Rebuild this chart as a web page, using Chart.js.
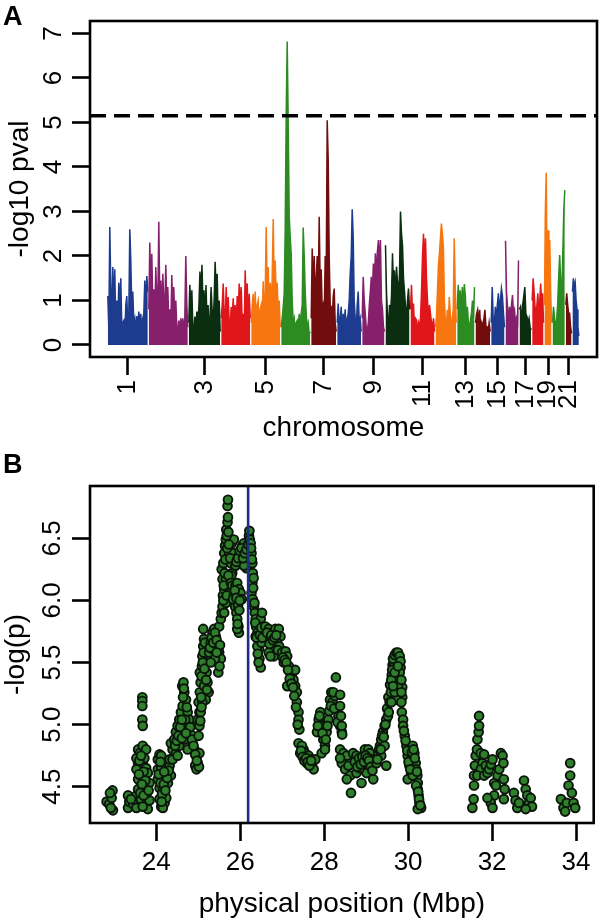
<!DOCTYPE html>
<html>
<head>
<meta charset="utf-8">
<script src="https://cdn.jsdelivr.net/npm/chart.js@4.4.1/dist/chart.umd.min.js"></script>
<style>
html,body{margin:0;padding:0;background:#fff;}
#wrap{position:relative;width:600px;height:920px;overflow:hidden;}
.panel{position:absolute;left:0;width:600px;height:460px;}
.plab{position:absolute;font-family:"Liberation Sans",Arial,Helvetica,sans-serif;font-weight:bold;font-size:27px;line-height:27px;color:#000;}
</style>
</head>
<body>
<div id="wrap">
  <div class="panel" style="top:0"><canvas id="cA" width="600" height="460"></canvas></div>
  <div class="panel" style="top:460px"><canvas id="cB" width="600" height="460"></canvas></div>
  <div class="plab" style="left:3px;top:3px">A</div>
  <div class="plab" style="left:3px;top:451px">B</div>
</div>
<script>
// ---------------- Panel A data: genome-wide scan ----------------
const chrNames = ['1','2','3','4','5','6','7','8','9','10','11','12','13','14','15','16','17','18','19','20','21','22'];
// relative chromosome widths on the genome axis
const chrSize = [41,40,32.4,30,30,30,26,25,23.3,25,25,21.7,18.3,15.7,14.3,14,12.7,12.3,8,13.3,6.7,7.3];
const chr1 = [1.1,0.4,2.65,1.3,0.6,1.75,0.9,1.7,0.3,1.0,0.5,1.4,0.8,1.5,0.4,0.5,0.55,0.2,0.9,1.1,0.4,0.7,2.6,1.9,0.8,1.2,0.5,0.6,0.3,0.65,0.4,0.75,0.5,0.7,0.3,0.6,0.7,1.45,0.9,1.55,1.2];
const chr2 = [0.8,2.3,1.2,2.05,0.9,1.25,0.7,1.75,1.1,0.9,2.77,1.0,1.45,0.7,1.6,1.0,0.8,1.8,0.9,1.3,0.5,0.8,0.4,1.57,0.8,1.3,0.5,1.0,0.4,0.3,0.55,0.3,0.6,0.4,0.6,0.3,0.6,2.0,0.9,0.4];
const chr3 = [0.5,1.35,0.8,1.23,0.4,0.3,0.64,0.4,0.75,0.5,0.9,1.65,1.1,1.8,0.9,1.23,0.6,1.35,0.5,0.9,0.4,0.6,1.3,0.8,0.5,1.0,1.87,1.2,1.6,0.6,1.0,0.3];
const chr4 = [0.6,0.9,1.38,0.7,0.5,1.3,0.6,1.08,0.5,0.4,0.85,0.6,1.05,0.5,0.9,0.4,1.1,0.7,1.38,0.8,1.3,0.5,0.7,0.3,1.68,0.9,1.38,0.5,1.15,0.6];
const chr5 = [0.5,0.9,1.15,0.6,1.2,0.5,0.9,1.0,0.4,0.8,0.9,0.6,1.43,0.8,1.1,2.65,1.2,1.75,0.9,1.4,0.8,1.5,2.83,1.3,1.9,1.1,1.4,0.7,1.0,0.4];
const chr6 = [0.4,0.6,0.86,1.16,2.6,5.2,6.82,5.0,2.9,2.43,2.05,1.0,0.5,0.6,0.3,0.5,0.55,0.4,0.7,0.5,0.7,0.9,2.64,2.0,1.2,0.7,0.4,0.5,0.25,0.3];
const chr7 = [0.6,2.17,1.2,2.0,1.0,1.5,2.0,1.2,2.88,1.3,1.7,0.8,0.9,0.6,2.0,1.5,5.05,4.15,2.0,0.9,0.86,0.5,1.08,1.27,0.5,0.3];
const chr8 = [0.5,0.93,0.4,0.6,0.86,0.3,0.7,0.5,0.8,0.3,0.6,0.7,1.0,1.6,2.0,3.05,2.43,1.0,0.6,0.3,0.9,1.2,0.5,0.6,0.3];
const chr9 = [0.6,1.53,1.0,0.71,0.4,0.3,0.5,0.9,1.2,1.53,1.1,1.83,1.4,2.06,1.6,2.1,2.36,1.8,2.36,1.0,0.8,0.4,0.3];
const chr10 = [2.24,1.2,0.64,0.4,0.9,0.7,1.1,2.06,1.3,1.68,1.0,1.76,1.4,1.16,1.6,3.0,2.5,2.24,1.5,1.2,0.86,0.6,1.0,1.27,0.8];
const chr11 = [0.8,1.35,0.7,0.93,0.4,0.6,0.56,0.3,0.5,0.41,0.6,1.2,2.0,2.5,1.8,2.4,1.5,1.0,0.6,0.9,0.7,0.5,0.41,0.6,0.3];
const chr12 = [0.4,0.64,1.2,1.8,2.06,2.4,2.73,2.5,2.2,1.0,0.56,0.4,0.79,0.5,1.08,0.7,0.4,0.56,0.8,2.4,1.3,0.5];
const chr13 = [0.8,1.35,0.9,1.23,0.7,1.3,0.9,1.37,1.1,0.6,0.86,0.5,0.4,0.56,0.7,1.0,0.6,1.3];
const chr14 = [0.5,0.7,0.79,0.5,0.79,0.3,0.5,0.4,0.6,0.79,0.4,0.41,0.3,0.5,0.3];
const chr15 = [0.5,1.3,0.56,0.4,0.86,0.6,0.9,1.16,0.8,1.0,1.27,1.1,0.71,0.4];
const chr16 = [2.34,1.2,0.86,0.5,0.86,0.6,0.9,1.12,0.7,0.79,0.5,0.6,0.4,1.9];
const chr17 = [0.8,0.86,0.5,0.9,1.1,1.3,0.7,0.64,0.5,0.6,0.4,0.34];
const chr18 = [1.0,1.5,1.2,0.86,0.5,0.9,1.16,0.7,1.0,1.38,0.9,1.16,0.5];
const chr19 = [0.9,3.0,3.87,1.5,2.58,2.0,2.36,1.2,0.5];
const chr20 = [0.5,0.86,0.6,0.4,0.56,0.9,1.5,2.02,1.46,1.0,2.0,3.0,3.48];
const chr21 = [0.9,1.16,0.9,0.7,0.71,0.4,0.26];
const chr22 = [1.2,1.5,1.3,1.4,1.0,0.8,0.4,0.2];
const chrValues = [chr1,chr2,chr3,chr4,chr5,chr6,chr7,chr8,chr9,chr10,chr11,chr12,chr13,chr14,chr15,chr16,chr17,chr18,chr19,chr20,chr21,chr22];
const labelledChroms = ['1','3','5','7','9','11','13','15','17','19','21'];
const yTicksA = [0,1,2,3,4,5,6,7];
const thresholdA = 5.15;

// ---------------- Panel B data: regional plot (position Mbp, -log p) ----------------
const regionSNPs = [
 [22.82,4.38],[22.88,4.36],[22.94,4.41],[22.96,4.47],[22.97,4.31],[22.92,4.33],[22.90,4.45],
 [23.33,4.43],[23.33,4.33],[23.36,4.38],[23.45,4.36],[23.53,4.43],[23.53,4.33],[23.40,4.40],
 [23.67,5.22],[23.67,5.19],[23.67,5.15],[23.67,5.04],[23.68,4.99],[23.57,4.80],[23.61,4.77],[23.68,4.83],[23.76,4.80],[23.57,4.69],[23.61,4.64],[23.68,4.69],[23.76,4.65],[23.57,4.56],[23.64,4.59],[23.72,4.59],[23.80,4.61],[23.57,4.48],[23.68,4.51],[23.76,4.49],[23.84,4.53],[23.64,4.40],[23.76,4.41],[23.84,4.39],[23.80,4.32],[23.68,4.34],[23.53,4.64],[23.53,4.73],[23.72,4.73],
 [23.60,4.71],[23.64,4.75],[23.70,4.62],[23.74,4.55],[23.78,4.45],[23.62,4.45],[23.70,4.43],[23.59,4.60],[23.82,4.47],[23.66,4.52],
 [24.04,4.72],[24.08,4.76],[24.12,4.75],[24.04,4.64],[24.12,4.65],[24.20,4.69],[24.04,4.56],[24.16,4.57],[24.24,4.61],[24.32,4.67],[24.08,4.49],[24.16,4.48],[24.28,4.53],[24.35,4.59],[24.08,4.40],[24.20,4.37],[24.12,4.34],[24.24,4.41],[24.32,4.72],[24.39,4.80],[24.35,4.85],[24.16,4.33],
 [24.06,4.60],[24.10,4.53],[24.14,4.44],[24.18,4.52],[24.22,4.47],[24.26,4.57],[24.30,4.63],[24.10,4.70],[24.19,4.62],[24.13,4.38],
 [24.43,4.88],[24.47,4.94],[24.51,4.99],[24.55,5.04],[24.59,5.10],[24.63,5.15],[24.62,5.31],[24.65,5.34],[24.67,5.26],[24.71,5.20],[24.75,5.10],[24.79,5.04],[24.69,5.04],[24.77,4.96],[24.83,4.92],[24.87,4.85],[24.91,4.80],[24.95,4.75],[24.99,4.69],[24.93,4.67],[24.96,4.64],[25.03,4.77],[24.47,4.77],[24.55,4.83],[24.39,4.72],[24.51,4.75],[24.59,4.94],[24.67,4.88],[24.75,4.80],[25.02,4.66],
 [24.45,4.83],[24.49,4.87],[24.53,4.91],[24.57,4.98],[24.61,5.04],[24.64,5.22],[24.66,5.29],[24.73,5.14],[24.81,4.98],[24.85,4.88],[24.89,4.83],[24.93,4.76],[24.97,4.71],[24.61,4.89],[24.71,4.93],
 [24.99,5.04],[25.03,5.10],[25.01,5.18],[25.04,5.26],[25.06,5.34],[25.04,5.42],[25.09,5.47],[25.10,5.55],[25.12,5.63],[25.14,5.69],[25.12,5.77],[25.17,5.58],[25.18,5.50],[25.20,5.42],[25.22,5.34],[25.25,5.26],[25.18,5.20],[25.14,5.31],[25.10,5.18],[25.06,5.10],[25.03,4.99],[25.01,4.91],
 [25.05,5.03],[25.07,5.22],[25.08,5.39],[25.11,5.50],[25.13,5.58],[25.15,5.45],[25.16,5.66],[25.19,5.36],[25.21,5.28],[25.08,5.14],
 [25.26,5.58],[25.30,5.66],[25.34,5.74],[25.38,5.77],[25.42,5.71],[25.46,5.63],[25.50,5.58],[25.54,5.53],[25.48,5.42],[25.51,5.47],[25.40,5.53],[25.34,5.61],[25.30,5.50],[25.42,5.66],[25.50,5.79],[25.54,5.85],[25.56,5.90],
 [25.28,5.62],[25.32,5.70],[25.36,5.66],[25.40,5.74],[25.44,5.68],[25.48,5.60],[25.52,5.64],[25.44,5.58],
 [25.58,5.95],[25.59,6.04],[25.62,6.09],[25.58,6.17],[25.56,6.25],[25.60,6.30],[25.62,6.38],[25.64,6.44],[25.66,6.49],[25.67,6.57],[25.70,6.63],[25.71,6.67],[25.70,6.76],[25.71,6.81],[25.74,6.38],[25.78,6.30],[25.81,6.22],[25.83,6.38],[25.80,6.46],[25.85,6.49],[25.66,6.17],[25.70,6.12],[25.74,6.06],[25.66,5.98],[25.62,5.90],
 [25.60,6.00],[25.61,6.12],[25.63,6.22],[25.65,6.33],[25.68,6.52],[25.69,6.42],[25.72,6.55],[25.73,6.45],[25.76,6.34],[25.79,6.20],[25.68,6.04],[25.72,6.20],
 [25.78,6.14],[25.81,6.12],[25.85,6.04],[25.89,6.12],[25.93,6.14],[25.97,6.09],[26.01,6.06],[26.04,6.01],[25.88,5.95],[25.91,5.90],[25.93,5.85],[25.96,5.79],[25.97,5.74],[25.93,5.77],[25.83,6.01],
 [25.87,6.08],[25.91,6.02],[25.95,5.96],[25.99,6.00],[25.94,5.81],[25.98,5.92],
 [25.89,6.28],[25.93,6.33],[25.97,6.36],[26.01,6.38],[26.05,6.44],[26.09,6.46],[26.13,6.30],[26.17,6.36],[26.21,6.41],[26.21,6.52],[26.22,6.56],[26.19,6.28],[26.15,6.26],[26.09,6.28],
 [25.91,6.31],[25.95,6.34],[25.99,6.40],[26.03,6.42],[26.07,6.34],[26.11,6.38],[26.15,6.41],[26.19,6.45],[26.23,6.49],
 [26.25,6.46],[26.27,6.38],[26.29,6.30],[26.30,6.22],[26.29,6.14],[26.27,6.06],[26.30,6.01],[26.33,5.95],[26.35,5.90],[26.37,5.85],[26.38,5.79],[26.41,5.74],[26.43,5.69],[26.45,5.61],[26.46,5.53],[26.49,5.46],[26.41,5.63],[26.37,5.71],[26.49,5.85],[26.52,5.90],[26.54,5.79],[26.56,5.74],[26.60,5.69],[26.51,5.66],
 [26.26,6.42],[26.28,6.33],[26.31,6.10],[26.32,6.18],[26.34,5.98],[26.36,5.82],[26.39,5.70],[26.42,5.57],[26.44,5.50],[26.47,5.72],[26.50,5.78],[26.53,5.70],
 [26.60,5.79],[26.68,5.77],[26.76,5.74],[26.84,5.77],[26.92,5.77],[26.96,5.71],[26.72,5.69],[26.76,5.63],[26.88,5.66],[26.93,5.63],[26.68,5.58],[26.80,5.55],[26.72,5.55],
 [26.64,5.74],[26.70,5.65],[26.74,5.72],[26.78,5.68],[26.82,5.70],[26.86,5.72],[26.90,5.60],
 [27.00,5.58],[27.08,5.59],[27.12,5.55],[27.04,5.50],[27.16,5.47],[27.19,5.42],[27.23,5.39],[27.27,5.36],[27.31,5.31],[27.35,5.26],[27.35,5.18],[27.39,5.10],[27.39,5.04],[27.41,4.96],[27.12,5.31],[27.31,5.44],
 [27.02,5.54],[27.06,5.52],[27.10,5.50],[27.14,5.44],[27.18,5.37],[27.22,5.33],[27.26,5.30],[27.29,5.23],[27.33,5.14],[27.37,5.00],
 [27.39,4.85],[27.43,4.77],[27.51,4.80],[27.55,4.77],[27.63,4.75],[27.67,4.72],[27.71,4.67],[27.75,4.64],[27.47,4.83],[27.59,4.69],[27.79,4.72],
 [27.45,4.79],[27.49,4.74],[27.53,4.71],[27.57,4.73],[27.61,4.70],[27.65,4.67],[27.69,4.71],
 [27.83,4.94],[27.87,5.04],[27.91,5.10],[27.94,4.99],[27.98,4.88],[28.02,4.83],[28.06,4.94],[28.10,5.04],[28.14,5.20],[28.17,5.26],[28.20,5.18],[28.26,5.23],[28.28,5.38],[28.30,5.14],[28.34,5.07],[28.38,4.99],[28.42,4.94],[27.94,4.77],[28.02,4.80],
 [27.85,4.99],[27.89,5.07],[27.96,4.93],[28.04,4.88],[28.08,4.99],[28.12,5.11],[28.16,5.15],[28.22,5.26],[28.24,5.13],[28.32,5.02],
 [28.38,5.24],[28.38,5.15],[28.40,5.07],[28.42,4.99],[28.43,4.92],
 [28.38,4.80],[28.46,4.77],[28.54,4.75],[28.42,4.69],[28.50,4.64],[28.58,4.67],[28.62,4.59],[28.54,4.56],[28.38,4.73],[28.64,4.45],
 [28.69,4.77],[28.77,4.75],[28.81,4.69],[28.89,4.72],[28.97,4.80],[29.05,4.80],[29.09,4.77],[29.13,4.72],[28.93,4.64],[29.01,4.61],[28.89,4.53],[29.17,4.56],[28.77,4.61],[28.85,4.65],[29.05,4.68],
 [28.73,4.70],[28.79,4.66],[28.83,4.73],[28.87,4.68],[28.91,4.74],[28.95,4.70],[28.99,4.75],[29.03,4.73],[29.07,4.71],[29.11,4.66],[29.15,4.63],
 [29.25,4.69],[29.29,4.77],[29.33,4.83],[29.36,4.88],[29.40,4.94],[29.44,4.99],[29.48,5.04],[29.52,5.07],[29.48,4.67],[29.36,4.75],[29.44,4.83],
 [29.27,4.72],[29.31,4.80],[29.35,4.80],[29.38,4.91],[29.42,4.90],[29.46,5.00],[29.50,5.13],[29.53,5.22],[29.57,5.32],[29.61,5.40],[29.63,5.48],[29.66,5.50],[29.70,5.52],[29.74,5.54],[29.78,5.52],[29.82,5.46],[29.86,5.30],[29.86,5.22],[29.70,5.35],[29.74,5.40],[29.78,5.38],
 [29.54,5.10],[29.56,5.18],[29.59,5.26],[29.60,5.36],[29.62,5.44],[29.64,5.53],[29.68,5.56],[29.72,5.58],[29.76,5.58],[29.80,5.55],[29.82,5.51],[29.80,5.42],[29.76,5.31],[29.72,5.20],[29.68,5.26],[29.64,5.31],[29.60,5.18],[29.84,5.36],[29.84,5.26],[29.84,5.18],[29.85,5.10],[29.88,5.04],[29.88,4.99],[29.68,5.42],[29.76,5.47],
 [29.92,4.91],[29.96,4.83],[29.99,4.75],[30.03,4.67],[30.07,4.61],[30.11,4.83],[30.15,4.77],[30.18,4.69],[30.19,4.64],[30.22,4.59],[30.23,4.53],[30.23,4.48],[30.25,4.43],[30.27,4.37],[30.31,4.33],[30.23,4.32],[29.99,4.56],[30.07,4.72],[30.19,4.51],[30.11,4.59],
 [29.90,4.95],[29.94,4.87],[29.98,4.79],[30.01,4.70],[30.05,4.64],[30.09,4.78],[30.13,4.80],[30.16,4.73],[30.21,4.62],[30.24,4.46],[30.26,4.40],[30.29,4.35],
 [31.53,4.33],[31.56,4.40],[31.57,4.51],[31.57,4.59],[31.59,4.67],[31.61,4.75],[31.64,4.80],[31.65,4.88],[31.68,4.94],[31.69,4.99],[31.69,5.07],[31.73,4.77],[31.77,4.69],[31.81,4.76],[31.73,4.64],[31.65,4.59],[31.81,4.59],
 [31.85,4.67],[31.89,4.61],[31.93,4.64],[31.97,4.68],[32.01,4.72],[32.05,4.53],[32.09,4.51],[32.13,4.59],[32.17,4.64],[32.21,4.77],[32.25,4.75],[32.27,4.69],[32.28,4.56],[32.30,4.48],[32.28,4.40],[32.05,4.43],[31.97,4.37],[32.01,4.33],[31.89,4.41],
 [32.52,4.45],[32.56,4.39],[32.60,4.33],[32.76,4.55],[32.80,4.48],[32.84,4.43],[32.88,4.37],[32.92,4.41],[32.95,4.34],[32.80,4.32],[32.64,4.37],
 [33.64,4.40],[33.70,4.33],[33.78,4.37],[33.82,4.51],[33.86,4.69],[33.86,4.59],[33.90,4.45],[33.94,4.37],[33.98,4.33],[33.74,4.30]
];
const markerMb = 26.19;
const xTicksB = [24,26,28,30,32,34];
const yTicksB = [4.5,5.0,5.5,6.0,6.5];
const yTickLabelsB = ['4.5','5.0','5.5','6.0','6.5'];

// ---------------- styles ----------------
const FONT = '"Liberation Sans", Arial, Helvetica, sans-serif';
const palette = ['#1d3c8f','#86206c','#0b2e10','#e0161b','#f8760f','#2c8c22','#730d0d'];
Chart.defaults.font.family = FONT;
Chart.defaults.color = '#000';

const boxPlugin = {
  id: 'rbox',
  afterDraw(chart) {
    const {ctx, chartArea: a} = chart;
    ctx.save();
    ctx.strokeStyle = '#000';
    ctx.lineWidth = 2.6;
    ctx.strokeRect(a.left, a.top, a.right - a.left, a.bottom - a.top);
    ctx.restore();
  }
};

function tickFont() { return {family: FONT, size: 26, lineHeight: 1}; }
function titleFont() { return {family: FONT, size: 28, lineHeight: 1}; }
const gridOpts = {drawOnChartArea: false, drawTicks: true, tickLength: 18, tickWidth: 2.6, tickColor: '#000'};

// ---------------- Panel A ----------------
const starts = [];
let acc = 0;
chrSize.forEach(s => { starts.push(acc); acc += s; });
const xMinA = -17.3, xMaxA = 489.7;
const tickPosA = labelledChroms.map(n => { const c = chrNames.indexOf(n); return starts[c] + chrSize[c] / 2; });

const manhattanSets = chrValues.map((vals, c) => ({
  type: 'line',
  label: 'chr' + chrNames[c],
  data: vals.map((v, i) => ({x: starts[c] + (i + 0.5) * chrSize[c] / vals.length, y: v})),
  borderColor: palette[c % palette.length],
  backgroundColor: palette[c % palette.length],
  borderWidth: 1.5,
  pointRadius: 0,
  tension: 0,
  fill: 'origin'
}));

new Chart(document.getElementById('cA'), {
  type: 'line',
  data: {
    datasets: [{
      type: 'line', label: 'threshold',
      data: [{x: xMinA, y: thresholdA}, {x: xMaxA, y: thresholdA}],
      borderColor: '#000', borderWidth: 3.5, borderDash: [16, 8], pointRadius: 0, fill: false
    }].concat(manhattanSets)
  },
  options: {
    responsive: false, animation: false, devicePixelRatio: 1,
    layout: {padding: {top: 21, right: 3, left: 0, bottom: 0}},
    plugins: {legend: {display: false}, tooltip: {enabled: false}},
    scales: {
      x: {
        type: 'linear', min: xMinA, max: xMaxA,
        afterBuildTicks: s => { s.ticks = tickPosA.map(v => ({value: v})); },
        afterFit: s => { s.height = 103; s.paddingLeft = 0; s.paddingRight = 0; },
        ticks: {autoSkip: false, minRotation: 90, maxRotation: 90, padding: 5, color: '#000', font: tickFont(),
                callback: (v, i) => labelledChroms[i]},
        grid: gridOpts,
        border: {display: false},
        title: {display: true, text: 'chromosome', color: '#000', font: titleFont(), padding: {top: 0, bottom: 18}}
      },
      y: {
        type: 'linear', min: -0.27, max: 7.28,
        afterBuildTicks: s => { s.ticks = yTicksA.map(v => ({value: v})); },
        afterFit: s => { s.width = 90; s.paddingTop = 0; s.paddingBottom = 0; },
        ticks: {minRotation: 90, maxRotation: 90, crossAlign: 'center', padding: 11, color: '#000', font: tickFont(),
                callback: (v, i) => String(yTicksA[i])},
        grid: gridOpts,
        border: {display: false},
        title: {display: true, text: '-log10 pval', color: '#000', font: titleFont(), padding: {top: 6, bottom: 0}}
      }
    }
  },
  plugins: [boxPlugin]
});

// ---------------- Panel B ----------------
const yMinB = 4.208, yMaxB = 6.921;
new Chart(document.getElementById('cB'), {
  type: 'scatter',
  data: {
    datasets: [{
      type: 'scatter', label: 'marker', showLine: true,
      data: [{x: markerMb, y: yMinB}, {x: markerMb, y: yMaxB}],
      borderColor: '#1f2d84', borderWidth: 2.6, pointRadius: 0
    }, {
      type: 'scatter', label: 'SNPs',
      data: regionSNPs.map(p => ({x: p[0], y: p[1]})),
      pointRadius: 4.4, borderWidth: 1.9,
      backgroundColor: '#2f7f2c', borderColor: '#0b160b'
    }]
  },
  options: {
    responsive: false, animation: false, devicePixelRatio: 1,
    layout: {padding: {top: 26, right: 3, left: 0, bottom: 0}},
    plugins: {legend: {display: false}, tooltip: {enabled: false}},
    scales: {
      x: {
        type: 'linear', min: 22.424, max: 34.42,
        afterBuildTicks: s => { s.ticks = xTicksB.map(v => ({value: v})); },
        afterFit: s => { s.height = 97; s.paddingLeft = 0; s.paddingRight = 0; },
        ticks: {autoSkip: false, maxRotation: 0, padding: 9, color: '#000', font: tickFont(),
                callback: (v, i) => String(xTicksB[i])},
        grid: gridOpts,
        border: {display: false},
        title: {display: true, text: 'physical position (Mbp)', color: '#000', font: titleFont(), padding: {top: 0, bottom: 2}}
      },
      y: {
        type: 'linear', min: yMinB, max: yMaxB,
        afterBuildTicks: s => { s.ticks = yTicksB.map(v => ({value: v})); },
        afterFit: s => { s.width = 90; s.paddingTop = 0; s.paddingBottom = 0; },
        ticks: {minRotation: 90, maxRotation: 90, crossAlign: 'center', padding: 1, color: '#000', font: tickFont(),
                callback: (v, i) => yTickLabelsB[i]},
        grid: gridOpts,
        border: {display: false},
        title: {display: true, text: '-log(p)', color: '#000', font: titleFont(), padding: {top: 2, bottom: 0}}
      }
    }
  },
  plugins: [boxPlugin]
});
</script>
</body>
</html>
